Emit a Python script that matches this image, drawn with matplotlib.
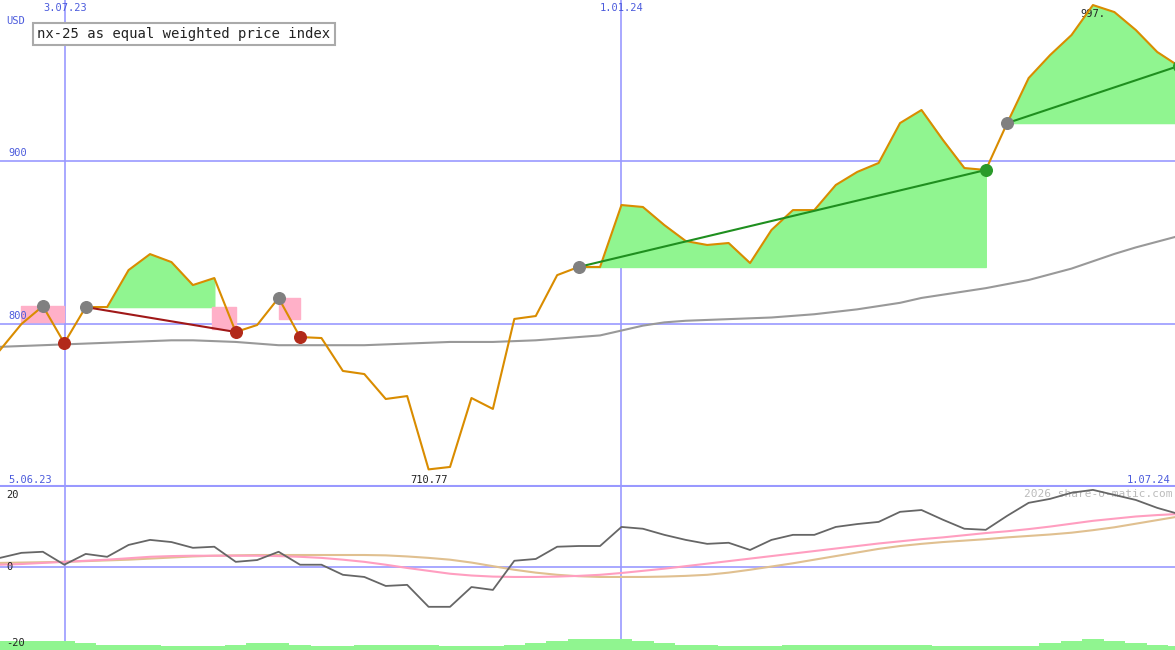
import matplotlib
matplotlib.use("Agg")
import matplotlib.pyplot as plt
import numpy as np

price = [784.0, 800.0, 811.0, 788.3, 810.4, 810.4, 833.1, 842.9, 838.0, 823.9, 828.2, 795.1, 799.4, 816.0,
         792.0, 791.4, 771.2, 769.3, 754.0, 755.8, 710.8, 712.3, 754.6, 747.9, 803.1, 804.9, 830.0, 835.0,
         835.0, 873.0, 871.8, 860.7, 850.9, 848.5, 849.7, 837.4, 857.7, 869.9, 869.9, 885.3, 893.3, 898.8,
         923.3, 931.3, 912.9, 895.7, 894.5, 923.3, 950.9, 965.0, 977.3, 995.7, 991.4, 980.4, 966.9, 958.3]
ma = [786, 786.5, 787, 787.5, 788, 788.5, 789, 789.5, 790, 790, 789.5, 789, 788, 787, 787, 787, 787,
      787, 787.5, 788, 788.5, 789, 789, 789, 789.5, 790, 791, 792, 793, 796, 799, 801, 802, 802.5, 803,
      803.5, 804, 805, 806, 807.5, 809, 811, 813, 816, 818, 820, 822, 824.5, 827, 830.5, 834, 838.5, 843,
      847, 850.5, 854]
mom = [2.5, 3.9, 4.2, 0.6, 3.6, 2.8, 6.1, 7.5, 6.9, 5.3, 5.6, 1.4, 1.9, 4.2, 0.6, 0.6, -2.2, -2.8, -5.3,
       -5.0, -11.1, -11.1, -5.6, -6.4, 1.7, 2.2, 5.6, 5.8, 5.8, 11.1, 10.6, 8.9, 7.5, 6.4, 6.7, 4.7, 7.5,
       8.9, 8.9, 11.1, 11.9, 12.5, 15.3, 15.8, 13.1, 10.6, 10.3, 14.2, 17.8, 18.9, 20.6, 21.4, 20.0, 18.6,
       16.4, 14.7]
mom_pink = [0.6, 0.8, 1.1, 1.4, 1.7, 2.0, 2.4, 2.8, 3.0, 3.1, 3.1, 3.1, 3.1, 3.0, 2.8, 2.5, 2.0, 1.4,
            0.6, -0.3, -1.1, -1.9, -2.4, -2.7, -2.8, -2.8, -2.7, -2.5, -2.2, -1.7, -1.1, -0.5, 0.2, 0.9,
            1.6, 2.3, 3.0, 3.7, 4.4, 5.1, 5.8, 6.5, 7.1, 7.7, 8.2, 8.8, 9.4, 9.9, 10.5, 11.2, 12.0, 12.8,
            13.4, 14.0, 14.4, 14.7]
mom_tan = [1.1, 1.2, 1.3, 1.4, 1.6, 1.8, 2.0, 2.3, 2.6, 2.9, 3.1, 3.2, 3.3, 3.3, 3.3, 3.3, 3.3, 3.3,
           3.2, 2.9, 2.5, 2.0, 1.2, 0.2, -0.8, -1.6, -2.2, -2.6, -2.8, -2.8, -2.8, -2.7, -2.5, -2.2, -1.6,
           -0.8, 0.1, 1.0, 2.0, 3.0, 4.0, 5.0, 5.8, 6.4, 6.9, 7.3, 7.7, 8.2, 8.6, 9.0, 9.5, 10.2, 11.0,
           12.0, 13.0, 14.0]
vol = [2.5, 2.5, 2.5, 2.5, 2, 1.5, 1.5, 1.5, 1, 1, 1, 1.5, 2, 2, 1.5, 1, 1, 1.5, 1.5, 1.5, 1.5, 1, 1, 1,
       1.5, 2, 2.5, 3, 3, 3, 2.5, 2, 1.5, 1.5, 1, 1, 1, 1.5, 1.5, 1.5, 1.5, 1.5, 1.5, 1.5, 1, 1, 1, 1,
       1, 2, 2.5, 3, 2.5, 2, 1.5, 1]
gray_pts = [2, 4, 13, 27, 47]
red_pts = [3, 11, 14]
green_pts = [46, 55]
xticks_main = [3.04, 29.0]
xticklabels_main = ["3.07.23", "1.01.24"]

blue = "#9999ff"
lblue = "#4b5bdc"
x = np.arange(len(price))
fig = plt.figure(figsize=(11.75, 6.5), dpi=100)
ax = fig.add_axes([0, 163/650, 1, 487/650])
ax2 = fig.add_axes([0, 0, 1, 163/650])
xmax = 1175/21.43
for a in (ax, ax2):
    a.set_xlim(0, xmax)
    a.axis("off")
ax.set_ylim(700, 998.8)
ax2.set_ylim(-23.1, 22.2)

for yv in (800, 900):
    ax.axhline(yv, color=blue, lw=1.2, zorder=1)
for xv in xticks_main:
    ax.axvline(xv, color=blue, lw=1.2, zorder=1)
    ax2.axvline(xv, color=blue, lw=1.2, zorder=1)
ax.axhline(700.6, color=blue, lw=1.5)
ax2.axhline(0, color=blue, lw=1.2)

p = np.array(price)
# green fills
def gfill(i0, i1, base):
    xs = x[i0:i1+1]; ys = p[i0:i1+1]
    ax.fill_between(xs, base, ys, where=ys >= base, interpolate=True, color="#90f590", zorder=2)
gfill(5, 10, price[4])
gfill(27, 46, price[27])
gfill(47, 55, price[47])
# pink
ax.fill_between([1.0, 3.0], 801, 811, color="#ffb0c8", zorder=2)
ax.fill_between([9.9, 11.0], 797, 810.4, color="#ffb0c8", zorder=2)
ax.fill_between([13.0, 14.0], 803, 816, color="#ffb0c8", zorder=2)

ax.plot(x, ma, color="#999999", lw=1.5, zorder=3)
ax.plot(x, price, color="#d98c00", lw=1.5, zorder=4)
ax.plot([4, 11], [price[4], price[11]], color="#a01818", lw=1.5, zorder=5)
ax.plot([27, 46], [price[27], price[46]], color="#1f8f1f", lw=1.5, zorder=5)
ax.plot([47, 55], [price[47], price[55]], color="#1f8f1f", lw=1.5, zorder=5)
ax.scatter(x[gray_pts], p[gray_pts], s=70, color="#808080", zorder=6)
ax.scatter(x[red_pts], p[red_pts], s=70, color="#b22a1a", zorder=6)
ax.scatter(x[green_pts], p[green_pts], s=70, color="#2a9a2a", zorder=6)

ax.text(8/21.43, 903, "900", color=lblue, fontsize=7.5, family="DejaVu Sans Mono")
ax.text(8/21.43, 803, "800", color=lblue, fontsize=7.5, family="DejaVu Sans Mono")
ax.text(6/21.43, 984, "USD", color=lblue, fontsize=7.5, family="DejaVu Sans Mono")
for xv, lab in zip(xticks_main, xticklabels_main):
    ax.text(xv, 992, lab, color=lblue, fontsize=7.5, ha="center", family="DejaVu Sans Mono")
ax.text(8/21.43, 702.5, "5.06.23", color=lblue, fontsize=7.5, family="DejaVu Sans Mono")
ax.text(xmax - 0.2, 702.5, "1.07.24", color=lblue, fontsize=7.5, ha="right", family="DejaVu Sans Mono")
ax.text(20, 702.5, "710.77", color="#222222", fontsize=7.5, ha="center", family="DejaVu Sans Mono")
ax.text(51, 988.5, "997.", color="#222222", fontsize=7.5, ha="center", family="DejaVu Sans Mono")
ax.text(32/21.43 + 0.25, 975.5, "nx-25 as equal weighted price index", fontsize=10,
        family="DejaVu Sans Mono", color="#222222",
        bbox=dict(boxstyle="square,pad=0.3", fc="white", ec="#aaaaaa", lw=1.5), zorder=7)

ax2.bar(x, np.array(vol), bottom=-23.1, width=1.0, color="#90f590", zorder=1)
ax2.plot(x, mom_tan, color="#e0c090", lw=1.5, zorder=3)
ax2.plot(x, mom_pink, color="#ff9ec0", lw=1.5, zorder=3)
ax2.plot(x, mom, color="#666666", lw=1.3, zorder=4)
ax2.text(6/21.43, 19.2, "20", color="#222222", fontsize=7.5, family="DejaVu Sans Mono")
ax2.text(6/21.43, -0.8, "0", color="#222222", fontsize=7.5, family="DejaVu Sans Mono")
ax2.text(6/21.43, -22, "-20", color="#222222", fontsize=7.5, family="DejaVu Sans Mono")
ax2.text(xmax - 0.1, 19.3, "2026 share-o-matic.com", color="#bbbbbb", fontsize=8,
         ha="right", family="DejaVu Sans Mono")
fig.savefig("out.png", dpi=100)
